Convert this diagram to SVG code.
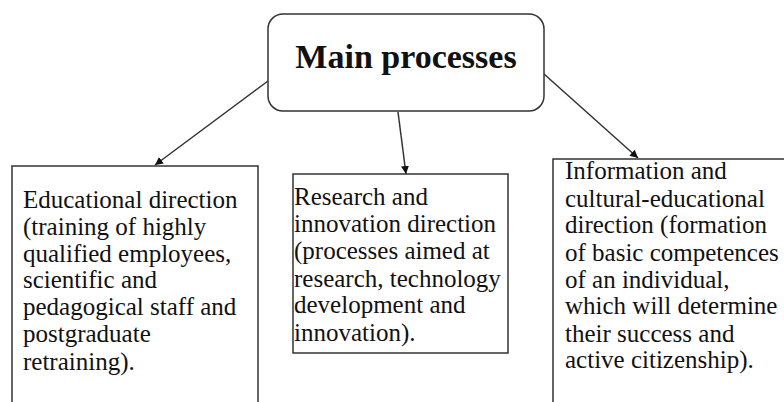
<svg xmlns="http://www.w3.org/2000/svg" width="784" height="402" viewBox="0 0 784 402">
<defs>
<style>
.box{fill:#fff;stroke:#333;stroke-width:1.5}
.t{font-family:"Liberation Serif",serif;font-size:25px;fill:#111}
.title{font-family:"Liberation Serif",serif;font-size:34px;font-weight:bold;fill:#111}
.conn{stroke:#333;stroke-width:1.5;fill:none}
</style>
<marker id="arr" viewBox="0 0 10 10" refX="10" refY="5" markerWidth="8" markerHeight="8" markerUnits="userSpaceOnUse" orient="auto">
<path d="M0,0 L10,5 L0,10 z" fill="#111"/>
</marker>
</defs>
<rect width="784" height="402" fill="#fff"/>
<g id="connectors">
<line class="conn" x1="268" y1="81" x2="155" y2="165" marker-end="url(#arr)"/>
<line class="conn" x1="398" y1="112" x2="406" y2="174" marker-end="url(#arr)"/>
<line class="conn" x1="544" y1="74" x2="638" y2="158" marker-end="url(#arr)"/>
</g>
<g id="main">
<rect class="box" x="268" y="14" width="276" height="97" rx="15"/>
<text class="title" x="406" y="68" text-anchor="middle">Main processes</text>
</g>
<g id="educational">
<rect class="box" x="12" y="166" width="246" height="250"/>
<text class="t">
<tspan x="23" y="208">Educational direction</tspan>
<tspan x="23" y="235">(training of highly</tspan>
<tspan x="23" y="262">qualified employees,</tspan>
<tspan x="23" y="288">scientific and</tspan>
<tspan x="23" y="315">pedagogical staff and</tspan>
<tspan x="23" y="342">postgraduate</tspan>
<tspan x="23" y="370">retraining).</tspan>
</text>
</g>
<g id="research">
<rect class="box" x="293" y="174" width="215" height="179"/>
<text class="t">
<tspan x="294" y="205">Research and</tspan>
<tspan x="294" y="232">innovation direction</tspan>
<tspan x="294" y="259">(processes aimed at</tspan>
<tspan x="294" y="287">research, technology</tspan>
<tspan x="294" y="313">development and</tspan>
<tspan x="294" y="341">innovation).</tspan>
</text>
</g>
<g id="information">
<rect class="box" x="553" y="159" width="250" height="260"/>
<text class="t">
<tspan x="565" y="179">Information and</tspan>
<tspan x="565" y="207">cultural-educational</tspan>
<tspan x="565" y="233">direction (formation</tspan>
<tspan x="565" y="261">of basic competences</tspan>
<tspan x="565" y="288">of an individual,</tspan>
<tspan x="565" y="314">which will determine</tspan>
<tspan x="565" y="342">their success and</tspan>
<tspan x="565" y="368">active citizenship).</tspan>
</text>
</g>
</svg>
